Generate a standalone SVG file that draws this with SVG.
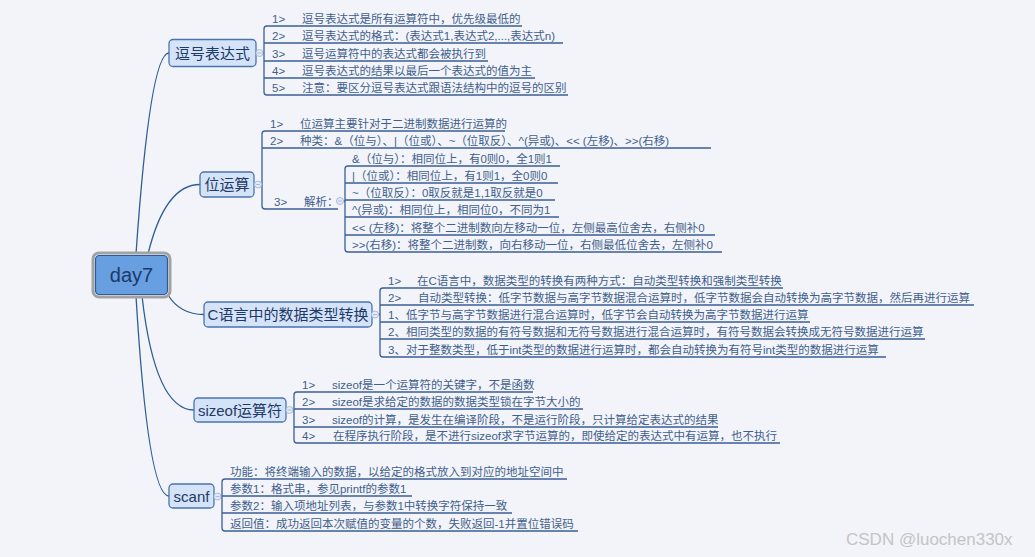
<svg xmlns="http://www.w3.org/2000/svg" width="1035" height="557" viewBox="0 0 1035 557">
<style>
text{font-family:"Liberation Sans","Noto Sans CJK SC",sans-serif}
.bg{fill:#f2f4f9}
.rootOuter{fill:none;stroke:#a2a2a2;stroke-width:3}
.root{fill:#689fe0;stroke:#2b5a96;stroke-width:1.2}
.rootText{font-size:20px;fill:#1b3a69;text-anchor:middle}
.topic{fill:#d5e3f9;stroke:#4a74ae;stroke-width:1.3}
.ttext{font-size:15px;fill:#1e3a66;text-anchor:middle}
.leaf{font-size:11.5px;fill:#425f8c}
.ul{fill:none;stroke:#3a5f94;stroke-width:1.3}
.conn{fill:none;stroke:#2f5d94;stroke-width:1.3}
.mk{fill:#e3eaf6;stroke:#a9bcdc;stroke-width:1}
.mkl{stroke:#a9bcdc;stroke-width:1}
.wm{font-size:17px;fill:#c4c4c4}
</style>
<rect class="bg" x="0" y="0" width="1035" height="557"/>

<g id="connectors">
  <path class="conn" d="M136,254 Q150,53 169,53"/>
  <path class="conn" d="M148,254 Q165,184.5 200,184.5"/>
  <path class="conn" d="M168,295 Q180,314.5 204,314.5"/>
  <path class="conn" d="M142,296 Q155,410 194,410"/>
  <path class="conn" d="M136,296 Q148,496 169,496"/>
  <path class="ul" d="M267,26 Q264,26 264,29 V92 Q264,95 267,95 M263,53 H264"/>
  <path class="ul" d="M265,131 Q262,131 262,134 V206 Q262,209 265,209 M261.5,184.5 H262"/>
  <path class="ul" d="M348,166 Q345,166 345,169 V249 Q345,252 348,252 M343.5,201 H345"/>
  <path class="ul" d="M383,288 Q380,288 380,291 V354 Q380,357 383,357 M378.5,314.5 H380"/>
  <path class="ul" d="M297,392 Q294,392 294,395 V440 Q294,443 297,443 M293,410 H294"/>
  <path class="ul" d="M225,479 Q222,479 222,482 V528 Q222,531 225,531 M221,496.5 H222"/>
</g>

<g id="root">
  <rect class="rootOuter" x="93" y="253" width="77" height="44" rx="6"/>
  <rect class="root" x="95.5" y="255.5" width="72" height="39" rx="4"/>
  <text class="rootText" x="131.5" y="282">day7</text>
</g>

<g id="comma">
  <rect class="topic" x="169" y="39.5" width="87" height="27" rx="4"/>
  <text class="ttext" x="212.5" y="58.5">逗号表达式</text>
  <circle class="mk" cx="259.5" cy="53" r="3.5"/><path class="mkl" d="M257.5,53 H261.5"/>
</g>
<g id="comma-1"><path class="ul" d="M267,26 H522"/><text class="leaf" y="23"><tspan x="272">1&gt;</tspan><tspan x="302">逗号表达式是所有运算符中，优先级最低的</tspan></text></g>
<g id="comma-2"><path class="ul" d="M264,43 H563"/><text class="leaf" y="40"><tspan x="272">2&gt;</tspan><tspan x="302">逗号表达式的格式：(表达式1,表达式2,...,表达式n)</tspan></text></g>
<g id="comma-3"><path class="ul" d="M264,61 H488"/><text class="leaf" y="58"><tspan x="272">3&gt;</tspan><tspan x="302">逗号运算符中的表达式都会被执行到</tspan></text></g>
<g id="comma-4"><path class="ul" d="M264,78 H535"/><text class="leaf" y="75"><tspan x="272">4&gt;</tspan><tspan x="302">逗号表达式的结果以最后一个表达式的值为主</tspan></text></g>
<g id="comma-5"><path class="ul" d="M267,95 H568"/><text class="leaf" y="92"><tspan x="272">5&gt;</tspan><tspan x="302">注意：要区分逗号表达式跟语法结构中的逗号的区别</tspan></text></g>

<g id="bitop">
  <rect class="topic" x="200" y="172" width="54" height="25" rx="4"/>
  <text class="ttext" x="227" y="190">位运算</text>
  <circle class="mk" cx="258" cy="184.5" r="3.5"/><path class="mkl" d="M256,184.5 H260"/>
</g>
<g id="bitop-1"><path class="ul" d="M265,131 H505"/><text class="leaf" y="128"><tspan x="270">1&gt;</tspan><tspan x="300">位运算主要针对于二进制数据进行运算的</tspan></text></g>
<g id="bitop-2"><path class="ul" d="M262,148 H711"/><text class="leaf" y="145"><tspan x="270">2&gt;</tspan><tspan x="300">种类：&amp;（位与）、|（位或）、~（位取反）、^(异或)、&lt;&lt; (左移)、&gt;&gt;(右移)</tspan></text></g>
<g id="bitop-3">
  <path class="ul" d="M265,209 H338"/>
  <text class="leaf" y="205.5"><tspan x="274">3&gt;</tspan><tspan x="304">解析：</tspan></text>
  <circle class="mk" cx="340" cy="201" r="3.5"/><path class="mkl" d="M338,201 H342"/>
</g>
<g id="bitop-3a"><path class="ul" d="M348,166 H560"/><text class="leaf" x="352" y="163">&amp;（位与）：相同位上，有0则0，全1则1</text></g>
<g id="bitop-3b"><path class="ul" d="M345,183 H558"/><text class="leaf" x="352" y="180">|（位或）：相同位上，有1则1，全0则0</text></g>
<g id="bitop-3c"><path class="ul" d="M345,200 H555"/><text class="leaf" x="352" y="197">~（位取反）：0取反就是1,1取反就是0</text></g>
<g id="bitop-3d"><path class="ul" d="M345,217 H559"/><text class="leaf" x="352" y="214">^(异或)：相同位上，相同位0，不同为1</text></g>
<g id="bitop-3e"><path class="ul" d="M345,235 H715"/><text class="leaf" x="352" y="232">&lt;&lt; (左移)：将整个二进制数向左移动一位，左侧最高位舍去，右侧补0</text></g>
<g id="bitop-3f"><path class="ul" d="M348,252 H722"/><text class="leaf" x="352" y="249">&gt;&gt;(右移)：将整个二进制数，向右移动一位，右侧最低位舍去，左侧补0</text></g>

<g id="ctype">
  <rect class="topic" x="204" y="302" width="168" height="25" rx="4"/>
  <text class="ttext" x="288" y="320">C语言中的数据类型转换</text>
  <circle class="mk" cx="375" cy="314.5" r="3.5"/><path class="mkl" d="M373,314.5 H377"/>
</g>
<g id="ctype-1"><path class="ul" d="M383,288 H783"/><text class="leaf" y="284.5"><tspan x="388">1&gt;</tspan><tspan x="417">在C语言中，数据类型的转换有两种方式：自动类型转换和强制类型转换</tspan></text></g>
<g id="ctype-2"><path class="ul" d="M380,305 H974"/><text class="leaf" y="302"><tspan x="388">2&gt;</tspan><tspan x="418">自动类型转换：低字节数据与高字节数据混合运算时，低字节数据会自动转换为高字节数据，然后再进行运算</tspan></text></g>
<g id="ctype-3"><path class="ul" d="M380,322 H810"/><text class="leaf" x="388" y="319">1、低字节与高字节数据进行混合运算时，低字节会自动转换为高字节数据进行运算</text></g>
<g id="ctype-4"><path class="ul" d="M380,339 H925"/><text class="leaf" x="388" y="336">2、相同类型的数据的有符号数据和无符号数据进行混合运算时，有符号数据会转换成无符号数据进行运算</text></g>
<g id="ctype-5"><path class="ul" d="M383,357 H886"/><text class="leaf" x="388" y="354">3、对于整数类型，低于int类型的数据进行运算时，都会自动转换为有符号int类型的数据进行运算</text></g>

<g id="sizeof">
  <rect class="topic" x="194" y="398" width="92" height="24" rx="4"/>
  <text class="ttext" x="240" y="415.5">sizeof运算符</text>
  <circle class="mk" cx="289.5" cy="410" r="3.5"/><path class="mkl" d="M287.5,410 H291.5"/>
</g>
<g id="sizeof-1"><path class="ul" d="M297,392 H533"/><text class="leaf" y="389"><tspan x="302">1&gt;</tspan><tspan x="332">sizeof是一个运算符的关键字，不是函数</tspan></text></g>
<g id="sizeof-2"><path class="ul" d="M294,409 H583"/><text class="leaf" y="406"><tspan x="302">2&gt;</tspan><tspan x="332">sizeof是求给定的数据的数据类型锁在字节大小的</tspan></text></g>
<g id="sizeof-3"><path class="ul" d="M294,427 H718"/><text class="leaf" y="424"><tspan x="302">3&gt;</tspan><tspan x="332">sizeof的计算，是发生在编译阶段，不是运行阶段，只计算给定表达式的结果</tspan></text></g>
<g id="sizeof-4"><path class="ul" d="M297,443 H780"/><text class="leaf" y="440"><tspan x="302">4&gt;</tspan><tspan x="333">在程序执行阶段，是不进行sizeof求字节运算的，即使给定的表达式中有运算，也不执行</tspan></text></g>

<g id="scanf">
  <rect class="topic" x="169" y="484" width="45" height="24" rx="4"/>
  <text class="ttext" x="191.5" y="501.5">scanf</text>
  <circle class="mk" cx="217.5" cy="496.5" r="3.5"/><path class="mkl" d="M215.5,496.5 H219.5"/>
</g>
<g id="scanf-1"><path class="ul" d="M225,479 H567"/><text class="leaf" x="230" y="475.5">功能：将终端输入的数据，以给定的格式放入到对应的地址空间中</text></g>
<g id="scanf-2"><path class="ul" d="M222,496 H412"/><text class="leaf" x="230" y="492.5">参数1：格式串，参见printf的参数1</text></g>
<g id="scanf-3"><path class="ul" d="M222,513 H512"/><text class="leaf" x="230" y="510">参数2：输入项地址列表，与参数1中转换字符保持一致</text></g>
<g id="scanf-4"><path class="ul" d="M225,531 H578"/><text class="leaf" x="230" y="527.5">返回值：成功返回本次赋值的变量的个数，失败返回-1并置位错误码</text></g>

<text class="wm" x="846" y="545">CSDN @luochen330x</text>
</svg>
